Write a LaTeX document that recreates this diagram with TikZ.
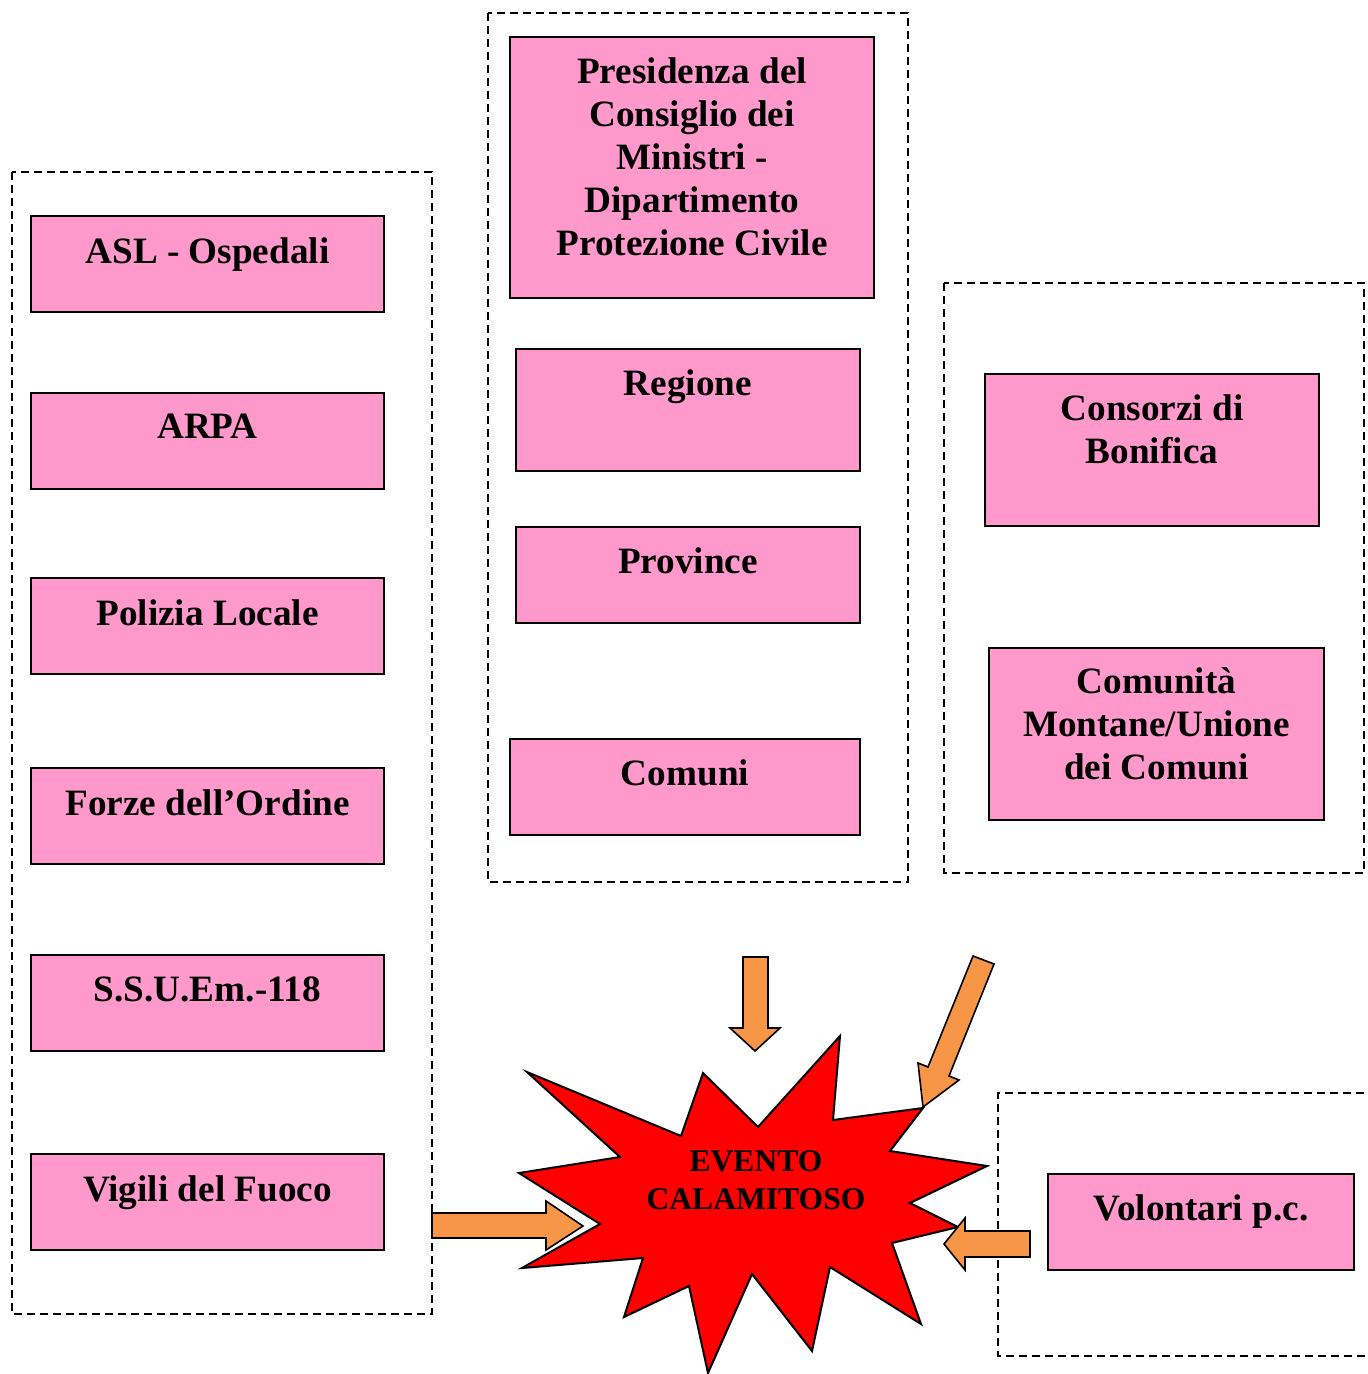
\documentclass[tikz,border=0pt]{standalone}
\usepackage{fontspec}
\setmainfont{Liberation Serif}
\usetikzlibrary{fit}
\definecolor{boxpink}{HTML}{FF99CC}
\definecolor{arroworange}{HTML}{F79646}
\definecolor{starred}{HTML}{FF0000}
\tikzset{
  pinkbox/.style={draw=black, fill=boxpink, line width=1pt, inner sep=0pt},
  lbl/.style={font=\fontsize{18.6}{21.5}\selectfont\bfseries, align=center, inner sep=0pt, anchor=north},
  groupbox/.style={draw=black, dash pattern=on 4pt off 2.5pt, line width=0.75pt},
  blockarrow/.style={draw=black, fill=arroworange, line width=0.8pt, line join=miter},
}
\begin{document}
\begin{tikzpicture}[x=0.5pt,y=-0.5pt]
\useasboundingbox (0,0) rectangle (1368,1374);
% dashed groups
\draw[groupbox] (12,172) rectangle (432,1314);
\draw[groupbox] (488,13) rectangle (908,882);
\draw[groupbox] (944,283) rectangle (1364,873);
\draw[groupbox] (1390,1093) -- (998,1093) -- (998,1356) -- (1390,1356);
% left column
\node[pinkbox, fit={(31,216) (384,312)}] (asl) {};
\node[lbl] (aslt) at ([yshift=-11pt]asl.north) {ASL - Ospedali};
\node[pinkbox, fit={(31,393) (384,489)}] (arpa) {};
\node[lbl] (arpat) at ([yshift=-11pt]arpa.north) {ARPA};
\node[pinkbox, fit={(31,578) (384,674)}] (pol) {};
\node[lbl] (polt) at ([yshift=-11pt]pol.north) {Polizia Locale};
\node[pinkbox, fit={(31,768) (384,864)}] (forze) {};
\node[lbl] (forzet) at ([yshift=-11pt]forze.north) {Forze dell’Ordine};
\node[pinkbox, fit={(31,955) (384,1051)}] (ssu) {};
\node[lbl] (ssut) at ([yshift=-11pt]ssu.north) {S.S.U.Em.-118};
\node[pinkbox, fit={(31,1154) (384,1250)}] (vvf) {};
\node[lbl] (vvft) at ([yshift=-11pt]vvf.north) {Vigili del Fuoco};
% middle column
\node[pinkbox, fit={(510,37) (874,298)}] (pcm) {};
\node[lbl] (pcmt) at ([yshift=-10.5pt]pcm.north) {Presidenza del\\Consiglio dei\\Ministri -\\Dipartimento\\Protezione Civile};
\node[pinkbox, fit={(516,349) (860,471)}] (reg) {};
\node[lbl] (regt) at ([yshift=-10.5pt]reg.north) {Regione};
\node[pinkbox, fit={(516,527) (860,623)}] (prov) {};
\node[lbl] (provt) at ([yshift=-10.5pt]prov.north) {Province};
\node[pinkbox, fit={(510,739) (860,835)}] (com) {};
\node[lbl] (comt) at ([yshift=-10.5pt]com.north) {Comuni};
% right column
\node[pinkbox, fit={(985,374) (1319,526)}] (cons) {};
\node[lbl] (const) at ([yshift=-10.5pt]cons.north) {Consorzi di\\Bonifica};
\node[pinkbox, fit={(989,648) (1324,820)}] (cm) {};
\node[lbl] (cmt) at ([yshift=-10pt]cm.north) {Comunità\\Montane/Unione\\dei Comuni};
\node[pinkbox, fit={(1048,1174) (1354,1270)}] (vol) {};
\node[lbl] (volt) at ([yshift=-10.5pt]vol.north) {Volontari p.c.};
% star
\draw[fill=starred, draw=black, line width=1pt, line join=miter]
  (527,1072) -- (681,1136) -- (703,1073) -- (758,1127) -- (840,1036) -- (833,1120)
  -- (923,1108) -- (890,1151) -- (987,1166) -- (910,1203) -- (958,1227) -- (892,1243)
  -- (921,1324) -- (830,1267) -- (812,1351) -- (752,1274) -- (708,1373) -- (689,1286)
  -- (624,1317) -- (643,1258) -- (522,1268) -- (600,1224) -- (519,1173) -- (620,1157) -- cycle;
\node[font=\fontsize{15.8}{19}\selectfont\bfseries, align=center, inner sep=0pt] (evento) at (756,1180) {EVENTO\\CALAMITOSO};
% block arrows
\draw[blockarrow] (743,957) -- (768,957) -- (768,1028) -- (780,1028) -- (755,1051) -- (730,1028) -- (743,1028) -- cycle;
\draw[blockarrow] (973,956) -- (994,964) -- (949,1076) -- (959,1080) -- (923,1107) -- (918,1063) -- (928,1067) -- cycle;
\draw[blockarrow] (432,1213) -- (546,1213) -- (546,1201) -- (583,1226) -- (546,1250) -- (546,1238) -- (432,1238) -- cycle;
\draw[blockarrow] (1030,1231) -- (965,1231) -- (965,1218) -- (944,1244) -- (965,1270) -- (965,1257) -- (1030,1257) -- cycle;
\end{tikzpicture}
\end{document}
